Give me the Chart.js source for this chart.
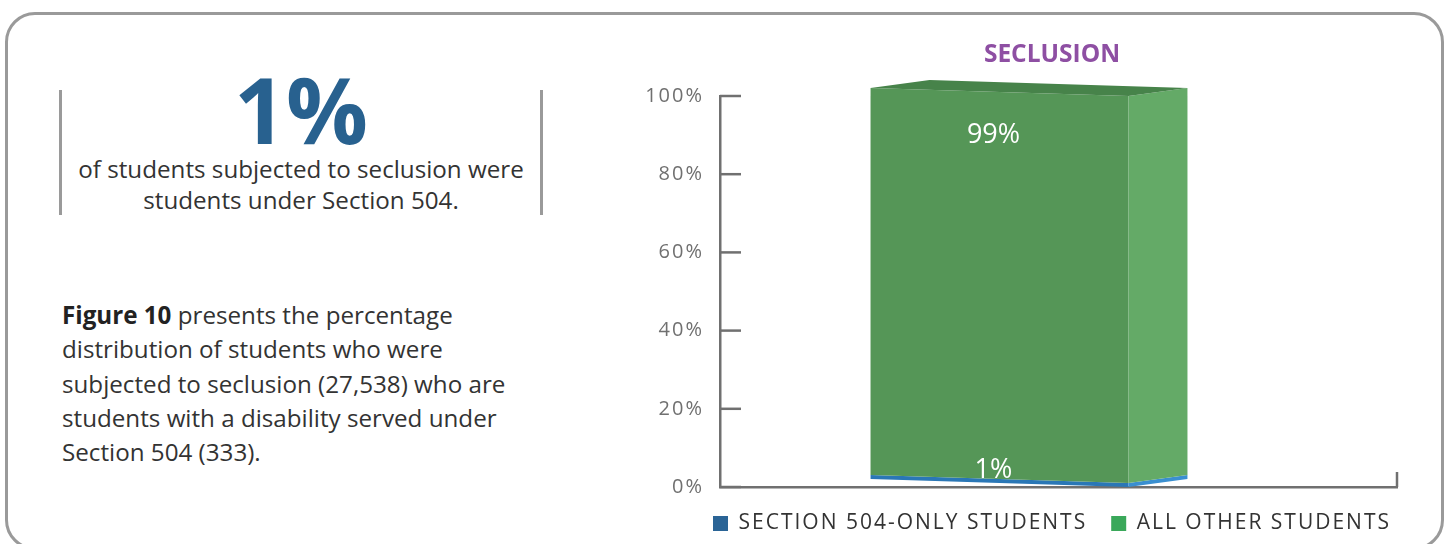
<!DOCTYPE html>
<html>
<head>
<meta charset="utf-8">
<script src="https://cdn.jsdelivr.net/npm/chart.js"></script>
<style>
  html, body { margin: 0; padding: 0; background: #fff; overflow: hidden; }
  body { width: 1450px; height: 544px; position: relative; font-family: "Open Sans", sans-serif; }
  .card {
    position: absolute; left: 5px; top: 12px; width: 1433px; height: 532px;
    border: 3px solid #9a9a9a; border-radius: 30px;
  }
  .callout {
    position: absolute; left: 59px; top: 90px; width: 478px; height: 125px;
    border-left: 3px solid #9a9a9a; border-right: 3px solid #9a9a9a;
  }
  .big {
    position: absolute; left: 0; width: 100%; top: -26px; text-align: center;
    font-size: 91px; font-weight: 700; color: #28618f; line-height: 1;
  }
  .sub {
    position: absolute; left: 0; width: 100%; top: 64px; text-align: center;
    font-size: 24.2px; color: #333; line-height: 30.5px; white-space: nowrap;
  }
  .para {
    position: absolute; left: 62px; top: 298px;
    font-size: 24.2px; color: #333; line-height: 34.3px; white-space: nowrap;
  }
  .para b { color: #222; }
  #wrap { position: absolute; left: 640px; top: 30px; width: 824px; height: 514px; }
</style>
</head>
<body>
<div class="card"></div>
<div class="callout">
  <div class="big">1%</div>
  <div class="sub">of students subjected to seclusion were<br>students under Section 504.</div>
</div>
<div class="para"><b>Figure 10</b> presents the percentage<br>distribution of students who were<br>subjected to seclusion (27,538) who are<br>students with a disability served under<br>Section 504 (333).</div>
<div id="wrap"><canvas id="chart"></canvas></div>
<script>
const categories = ["Seclusion"];
const seriesNames = ["SECTION 504-ONLY STUDENTS", "ALL OTHER STUDENTS"];
const section504Values = [1];
const otherValues = [99];
const yTicks = [0, 20, 40, 60, 80, 100];

// front / side / top shades per series
const FRONT = ["#2a77b6", "#559657"];
const SIDE = ["#3a8fd0", "#64aa67"];
const TOP = ["#2f6fa5", "#47834a"];
const LEGEND_COLORS = ["#2a6496", "#3aa85a"];
const DEPTH_X = 59, DEPTH_Y = -8, SKEW = 8, SHIFT = 59;

const quad = (ctx, pts, fill) => {
  ctx.beginPath();
  ctx.moveTo(pts[0][0], pts[0][1]);
  for (let i = 1; i < pts.length; i++) ctx.lineTo(pts[i][0], pts[i][1]);
  ctx.closePath();
  ctx.fillStyle = fill;
  ctx.fill();
};

// tracked-out axis and legend text, but a plain title
const spacing = {
  id: "spacing",
  beforeLayout(chart) { chart.ctx.letterSpacing = "2px"; },
  beforeDraw(chart) {
    chart.ctx.letterSpacing = "2px";
    const t = chart.titleBlock;
    if (t && !t._plain) {
      const draw = t.draw;
      t.draw = function () {
        this.ctx.save();
        this.ctx.letterSpacing = "0px";
        draw.call(this);
        this.ctx.restore();
      };
      t._plain = true;
    }
  },
};

const bar3d = {
  id: "bar3d",
  beforeDatasetDraw: () => false,
  afterDatasetsDraw(chart) {
    const ctx = chart.ctx;
    ctx.save();
    ctx.letterSpacing = "0px";
    const count = chart.data.datasets.length;
    chart.data.datasets.forEach((ds, di) => {
      chart.getDatasetMeta(di).data.forEach((el) => {
        const L = el.x - el.width / 2 - SHIFT, R = el.x + el.width / 2 - SHIFT;
        const T = el.y, B = el.base;
        quad(ctx, [[L, T - SKEW], [R, T], [R, B], [L, B - SKEW]], FRONT[di]);
        quad(ctx, [[R, T], [R + DEPTH_X, T + DEPTH_Y], [R + DEPTH_X, B + DEPTH_Y], [R, B]], SIDE[di]);
        if (di === count - 1) {
          quad(ctx, [[L, T - SKEW], [L + DEPTH_X, T - SKEW + DEPTH_Y], [R + DEPTH_X, T + DEPTH_Y], [R, T]], TOP[di]);
        }
      });
    });
    // value labels
    ctx.fillStyle = "#fff";
    ctx.font = "27px 'Open Sans', sans-serif";
    ctx.textAlign = "center";
    ctx.textBaseline = "middle";
    chart.data.datasets.forEach((ds, di) => {
      chart.getDatasetMeta(di).data.forEach((el, i) => {
        const cx = el.x - SHIFT - 6;
        const cy = di === 0 ? el.y - 13 : el.y + 39;
        ctx.fillText(ds.data[i] + "%", cx, cy);
      });
    });
    // inward tick marks on the y axis and right end of the x axis
    const ys = chart.scales.y, xs = chart.scales.x;
    ctx.strokeStyle = "#707070";
    ctx.lineWidth = 2.5;
    yTicks.forEach((v) => {
      const py = ys.getPixelForValue(v);
      ctx.beginPath();
      ctx.moveTo(xs.left, py);
      ctx.lineTo(xs.left + 21, py);
      ctx.stroke();
    });
    ctx.beginPath();
    ctx.moveTo(xs.right, ys.bottom);
    ctx.lineTo(xs.right, ys.bottom - 15);
    ctx.stroke();
    ctx.restore();
  },
};

new Chart(document.getElementById("chart"), {
  type: "bar",
  data: {
    labels: categories,
    datasets: [
      { label: seriesNames[0], data: section504Values, backgroundColor: LEGEND_COLORS[0] },
      { label: seriesNames[1], data: otherValues, backgroundColor: LEGEND_COLORS[1] },
    ],
  },
  options: {
    responsive: true,
    maintainAspectRatio: false,
    animation: false,
    layout: { padding: 0 },
    barPercentage: 0.381,
    categoryPercentage: 1,
    plugins: {
      title: {
        display: true,
        text: "SECLUSION",
        color: "#8e4fa3",
        font: { family: "'Open Sans', sans-serif", size: 24.5, weight: "bold" },
        padding: { top: 10, bottom: 26.6 },
      },
      legend: {
        position: "bottom",
        labels: {
          boxWidth: 15,
          boxHeight: 15,
          padding: 24,
          color: "#333",
          font: { family: "'Open Sans', sans-serif", size: 21 },
        },
      },
      tooltip: { enabled: false },
    },
    scales: {
      x: {
        stacked: true,
        grid: { display: false, drawTicks: false },
        border: { display: true, color: "#707070", width: 2.5 },
        ticks: { display: false },
        afterFit: (axis) => { axis.height = 2; },
      },
      y: {
        stacked: true,
        min: 0,
        max: 100,
        afterBuildTicks: (axis) => { axis.ticks = yTicks.map((v) => ({ value: v })); },
        afterFit: (axis) => { axis.width = 80; },
        grid: { display: false, drawTicks: false },
        border: { display: true, color: "#707070", width: 2.5 },
        ticks: {
          padding: 16,
          color: "#707070",
          font: { family: "'Open Sans', sans-serif", size: 20 },
          callback: (v) => v + "%",
        },
      },
      yRight: {
        position: "right",
        grid: { display: false, drawTicks: false },
        border: { display: false },
        ticks: { display: false },
        afterFit: (axis) => { axis.width = 67; },
      },
    },
  },
  plugins: [spacing, bar3d],
});
</script>
</body>
</html>
